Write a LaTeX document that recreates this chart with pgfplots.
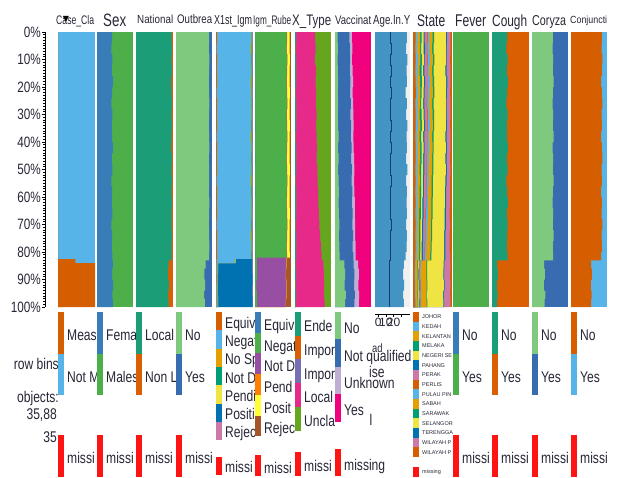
\documentclass[border=0pt]{standalone}
\usepackage{fontspec}
\setmainfont{Liberation Sans}
\newfontfamily\dejavu{DejaVu Sans}
\usepackage{graphicx}
\usepackage{pgfplots}
\pgfplotsset{compat=1.18}
\usepackage{pgfplotstable}

\definecolor{okA}{HTML}{D55E00}
\definecolor{okB}{HTML}{56B4E9}
\definecolor{okC}{HTML}{E69F00}
\definecolor{okD}{HTML}{009E73}
\definecolor{okE}{HTML}{F0E442}
\definecolor{okF}{HTML}{0072B2}
\definecolor{okG}{HTML}{CC79A7}
\definecolor{s1A}{HTML}{377EB8}
\definecolor{s1B}{HTML}{4DAF4A}
\definecolor{s1C}{HTML}{984EA3}
\definecolor{s1D}{HTML}{FF7F00}
\definecolor{s1E}{HTML}{FFFF33}
\definecolor{s1F}{HTML}{A65628}
\definecolor{d2A}{HTML}{1B9E77}
\definecolor{d2B}{HTML}{D95F02}
\definecolor{d2C}{HTML}{7570B3}
\definecolor{d2D}{HTML}{E7298A}
\definecolor{d2E}{HTML}{66A61E}
\definecolor{acA}{HTML}{7FC97F}
\definecolor{acB}{HTML}{BEAED4}
\definecolor{acE}{HTML}{386CB0}
\definecolor{acF}{HTML}{F0027F}
\definecolor{missred}{HTML}{FF1414}
\definecolor{txt}{HTML}{262636}
\definecolor{agebar}{HTML}{4393C3}
\definecolor{ageline}{HTML}{163D6E}
\definecolor{agebg}{HTML}{F0F0F0}

\newcommand\lab[1]{{\fontsize{15.5}{15.5}\selectfont\scalebox{0.78}[1]{#1}}}
\newcommand\slab[1]{{\fontsize{5.5}{5.5}\selectfont #1}}
\newcommand\yl[1]{{\fontsize{15}{15}\selectfont\scalebox{0.78}[1]{#1}}}
\newcommand\ttl[5]{\node[anchor=base west,inner sep=0pt,text=txt] at (#1pt,-#2pt) {\resizebox{#3pt}{#4pt}{#5}};}

% #1 left, #2 slot height, #3 clip right, #4 list colour/label, #5 missing top, #6 font macro, #7 baseline offset, #8 missing label
\newcommand{\legendcol}[8]{%
 \begin{scope}
  \clip (#1pt,-305pt) rectangle (#3pt,-480pt);
  \foreach \c/\t [count=\i from 0] in {#4} {
    \pgfmathsetmacro\yy{312+\i*#2}
    \pgfmathsetmacro\yb{\yy+#2/2+#7}
    \node[anchor=north west,inner sep=0pt,outer sep=0pt] at (#1pt,-\yy pt) {\textcolor{\c}{\rule{6pt}{#2pt}}};
    \node[anchor=base west,inner sep=0pt,text=txt] at (#1pt+9pt,-\yb pt) {#6{\t}};
  }
  \pgfmathsetmacro\yb{#5+#2/2+#7}
  \node[anchor=north west,inner sep=0pt,outer sep=0pt] at (#1pt,-#5pt) {\textcolor{missred}{\rule{6pt}{#2pt}}};
  \node[anchor=base west,inner sep=0pt,text=txt] at (#1pt+9pt,-\yb pt) {#6{#8}};
 \end{scope}}

\pgfplotsset{
  colax/.style={anchor=north west, scale only axis, height=275pt, xmin=0, xmax=1,
    ymin=0, ymax=100, y dir=reverse, hide axis, clip=true},
  fl/.style={draw=none, fill=#1, const plot mark right, mark=none},
}

% ---------------- data: row start (%), cumulative category fractions --------------
\pgfplotstableread{
y a
0 0
82.6 .47
84 1
100 0
}\tCase

\pgfplotstableread{
y a
0 0
0 .42
4 .40
8 .43
12 .41
16 .44
20 .42
24 .40
28 .43
32 .41
36 .42
40 .44
44 .41
48 .43
52 .40
56 .42
60 .41
64 .43
68 .40
72 .42
76 .41
80 .43
83 .44
86 .42
90 .45
94 .43
97 .44
100 0
}\tSex

\pgfplotstableread{
y a
0 0
0 .965
4 .97
8 .96
12 .97
16 .955
20 .965
24 .97
28 .96
32 .97
36 .965
40 .955
44 .97
48 .965
52 .97
56 .96
60 .97
64 .965
68 .96
72 .97
76 .965
80 .96
83 .88
86 .86
90 .89
94 .87
97 .88
100 0
}\tNat

\pgfplotstableread{
y a
0 0
0 .92
4 .91
8 .93
12 .92
16 .91
20 .92
24 .93
28 .92
32 .91
36 .92
40 .93
44 .91
48 .92
52 .92
56 .91
60 .93
64 .92
68 .91
72 .92
76 .93
80 .92
83 .82
86 .79
90 .81
94 .78
97 .80
100 0
}\tOut

\pgfplotstableread{
y a b c d e f
0 0 0 0 0 0 0
0 .03 .94 .95 .965 .975 .985
4 .02 .93 .945 .96 .97 .98
8 .03 .95 .955 .97 .975 .985
12 .025 .94 .95 .965 .97 .98
16 .03 .93 .94 .96 .97 .985
20 .02 .95 .96 .97 .975 .985
24 .03 .94 .95 .96 .97 .98
28 .025 .94 .95 .965 .975 .985
32 .03 .95 .955 .97 .975 .985
36 .02 .93 .945 .96 .97 .98
40 .03 .94 .95 .965 .975 .985
44 .025 .95 .955 .97 .975 .985
48 .03 .94 .95 .96 .97 .98
52 .02 .93 .945 .96 .975 .985
56 .03 .95 .955 .97 .975 .985
60 .025 .94 .95 .965 .97 .98
64 .03 .94 .95 .96 .975 .985
68 .02 .95 .955 .97 .975 .985
72 .03 .93 .945 .96 .97 .98
76 .025 .94 .95 .965 .975 .985
80 .03 .95 .955 .97 .975 .985
82.5 .02 .5 .51 .52 .53 .985
84 .01 .04 .045 .05 .055 .985
88 .015 .035 .04 .045 .05 .99
92 .01 .03 .035 .045 .05 .985
96 .01 .04 .045 .05 .055 .99
100 0 0 0 0 0 0
}\tFirst

\pgfplotstableread{
y a b c d e
0 0 0 0 0 0
0 .005 .88 .885 .89 .965
4 .005 .87 .875 .88 .96
8 .01 .89 .895 .9 .97
12 .005 .88 .885 .89 .965
16 .005 .87 .875 .885 .96
20 .01 .88 .885 .89 .97
24 .005 .89 .895 .9 .965
28 .005 .87 .88 .885 .96
32 .01 .88 .885 .89 .97
36 .005 .89 .895 .9 .965
40 .005 .88 .885 .89 .96
44 .01 .87 .875 .88 .965
48 .005 .88 .885 .89 .97
52 .005 .89 .895 .9 .965
56 .01 .88 .885 .89 .96
60 .005 .87 .875 .88 .965
64 .005 .88 .885 .89 .97
68 .01 .89 .895 .9 .965
72 .005 .88 .885 .89 .96
76 .005 .87 .875 .88 .965
80 .01 .88 .885 .89 .97
82 0 .05 .86 .865 .87
86 0 .06 .85 .855 .86
90 0 .04 .87 .875 .88
94 0 .05 .86 .865 .87
97 0 .06 .85 .855 .86
100 0 0 0 0 0
}\tIgm

\pgfplotstableread{
y a b c d
0 0 0 0 0
0 .025 .03 .035 .56
4 .02 .025 .03 .57
8 .025 .03 .035 .555
12 .03 .035 .04 .58
16 .025 .03 .035 .57
20 .02 .025 .03 .59
24 .025 .03 .035 .58
28 .03 .035 .04 .60
32 .025 .03 .035 .59
36 .02 .025 .03 .60
40 .025 .03 .035 .61
44 .03 .035 .04 .60
48 .025 .03 .035 .62
52 .02 .025 .03 .63
56 .025 .03 .035 .64
60 .03 .035 .04 .65
64 .025 .03 .035 .66
68 .02 .025 .03 .68
72 .025 .03 .035 .70
76 .03 .035 .04 .72
80 .025 .03 .035 .74
83 .02 .025 .03 .79
86 .025 .03 .035 .80
90 .02 .025 .03 .81
94 .025 .03 .035 .80
97 .02 .025 .03 .82
100 0 0 0 0
}\tType

\pgfplotstableread{
y a b c
0 0 0 0
0 .07 .40 .47
4 .08 .41 .48
8 .07 .42 .47
12 .08 .41 .49
16 .09 .43 .50
20 .08 .42 .49
24 .09 .44 .50
28 .08 .43 .51
32 .09 .45 .52
36 .10 .44 .51
40 .09 .46 .52
44 .10 .45 .53
48 .09 .47 .54
52 .10 .46 .53
56 .11 .48 .54
60 .10 .47 .55
64 .11 .49 .55
68 .12 .48 .56
72 .11 .50 .56
76 .12 .49 .57
80 .13 .51 .57
83 .26 .52 .64
86 .28 .54 .66
90 .27 .53 .65
94 .30 .55 .67
97 .28 .54 .66
100 0 0 0
}\tVac

\pgfplotstableread{
y m
0 -4
0 37
4 36
8 37.5
12 36.5
16 37
20 35.5
24 37
28 36
32 37.5
36 36.5
40 37
44 36
48 37.5
52 36
56 37
60 36.5
64 37
68 36
72 37
76 36.5
80 35.5
83 33
86 32
90 33.5
94 32
97 33
100 -4
}\tAge

\pgfplotstableread{
y l
0 16
4 17
8 16.5
12 17.5
16 16
20 17
24 16.5
28 15.5
32 17
36 16
40 17.5
44 16.5
48 16
52 17
56 16.5
60 15.5
64 16.5
68 17
72 16
76 16.5
80 16
83 14.5
86 15
90 14
94 15
97 14.5
100 14.5
}\tAgeLine

\pgfplotstableread{
y a b c d e f g h i j k l m n
0 0 0 0 0 0 0 0 0 0 0 0 0 0 0
0 .07 .12 .18 .22 .27 .30 .37 .38 .42 .50 .54 .84 .87 .96
4 .06 .11 .18 .21 .27 .31 .36 .37 .42 .49 .53 .85 .87 .96
8 .07 .13 .19 .23 .28 .30 .37 .38 .43 .51 .55 .84 .86 .95
12 .06 .12 .17 .22 .26 .29 .36 .37 .41 .49 .53 .83 .86 .96
16 .07 .11 .18 .23 .28 .31 .38 .39 .43 .50 .54 .85 .88 .96
20 .08 .13 .19 .22 .27 .30 .36 .37 .42 .51 .55 .84 .87 .95
24 .06 .12 .18 .21 .26 .29 .35 .36 .41 .49 .53 .84 .86 .96
28 .07 .12 .17 .22 .27 .30 .37 .38 .42 .50 .54 .85 .87 .96
32 .07 .13 .19 .23 .28 .31 .37 .38 .43 .51 .54 .84 .87 .95
36 .06 .11 .17 .21 .26 .29 .36 .37 .41 .49 .53 .83 .86 .96
40 .07 .12 .18 .22 .27 .30 .36 .37 .42 .50 .53 .84 .87 .96
44 .07 .12 .18 .22 .26 .29 .35 .36 .41 .49 .52 .83 .86 .95
48 .06 .11 .17 .21 .26 .29 .35 .36 .40 .49 .52 .84 .87 .96
52 .07 .12 .18 .21 .25 .28 .34 .35 .40 .48 .51 .83 .86 .95
56 .06 .11 .17 .21 .25 .28 .34 .35 .39 .48 .51 .82 .85 .95
60 .07 .12 .17 .20 .24 .27 .33 .34 .39 .47 .50 .82 .85 .95
64 .06 .11 .16 .20 .24 .27 .32 .33 .38 .47 .50 .81 .84 .94
68 .07 .11 .16 .19 .23 .26 .31 .32 .37 .46 .49 .81 .84 .95
72 .06 .10 .15 .19 .23 .26 .31 .32 .36 .46 .49 .80 .83 .94
76 .07 .11 .16 .19 .22 .25 .30 .31 .35 .45 .48 .80 .83 .94
80 .06 .10 .15 .18 .22 .25 .29 .30 .34 .44 .47 .80 .83 .95
83 .05 .07 .11 .13 .15 .16 .18 .185 .205 .345 .365 .785 .805 .955
86 .04 .06 .10 .12 .14 .15 .17 .175 .195 .34 .36 .78 .80 .95
90 .05 .07 .12 .14 .16 .17 .19 .195 .215 .35 .37 .79 .81 .96
94 .05 .07 .11 .13 .15 .16 .18 .185 .205 .33 .35 .77 .79 .95
97 .06 .08 .12 .14 .16 .17 .19 .195 .215 .35 .37 .78 .80 .96
100 0 0 0 0 0 0 0 0 0 0 0 0 0 0
}\tState

\pgfplotstableread{
y a
0 0
0 .41
4 .39
8 .42
12 .40
16 .43
20 .41
24 .39
28 .42
32 .40
36 .41
40 .43
44 .40
48 .42
52 .39
56 .41
60 .43
64 .40
68 .42
72 .41
76 .40
80 .42
83 .14
86 .16
90 .13
94 .15
97 .14
100 0
}\tCough

\pgfplotstableread{
y a
0 0
0 .58
4 .57
8 .59
12 .58
16 .60
20 .58
24 .57
28 .59
32 .58
36 .60
40 .57
44 .59
48 .58
52 .60
56 .58
60 .57
64 .59
68 .58
72 .60
76 .58
80 .59
83 .34
86 .36
90 .33
94 .37
97 .35
100 0
}\tCoryza

\pgfplotstableread{
y a
0 0
0 .86
4 .85
8 .87
12 .86
16 .84
20 .86
24 .87
28 .85
32 .86
36 .84
40 .86
44 .87
48 .85
52 .86
56 .84
60 .86
64 .85
68 .87
72 .85
76 .86
80 .84
83 .56
86 .58
90 .55
94 .57
97 .56
100 0
}\tConj

\begin{document}
\begin{tikzpicture}
\path[use as bounding box] (0,0) rectangle (618pt,-477pt);

% ---- percentage scale ----
\begin{axis}[at={(45pt,-32pt)}, anchor=north west, scale only axis, width=1pt, height=275pt,
  xmin=0, xmax=1, ymin=0, ymax=100, y dir=reverse,
  axis x line=none, axis y line*=left, y axis line style={-, black, line width=0.7pt},
  ytick={0,10,...,100}, minor y tick num=9, tick align=outside,
  major tick length=3pt, minor tick length=1.8pt, tick style={black, line width=0.6pt},
  yticklabels={\yl{0\%},\yl{10\%},\yl{20\%},\yl{30\%},\yl{40\%},\yl{50\%},\yl{60\%},\yl{70\%},\yl{80\%},\yl{90\%},\yl{100\%}},
  yticklabel style={text=txt, inner sep=1pt}]
\addplot[draw=none] coordinates {(0,0)};
\end{axis}

% ---- Case_Cla ----
\begin{axis}[colax, at={(58pt,-32pt)}, width=37pt]
\addplot[draw=none, fill=okB] coordinates {(0,0) (1,0) (1,100) (0,100)};
\addplot[fl=okA] table[x=a,y=y] {\tCase};
\end{axis}
% ---- Sex ----
\begin{axis}[colax, at={(97pt,-32pt)}, width=36pt]
\addplot[draw=none, fill=s1B] coordinates {(0,0) (1,0) (1,100) (0,100)};
\addplot[fl=s1A] table[x=a,y=y] {\tSex};
\end{axis}
% ---- National ----
\begin{axis}[colax, at={(136pt,-32pt)}, width=37pt]
\addplot[draw=none, fill=d2B] coordinates {(0,0) (1,0) (1,100) (0,100)};
\addplot[fl=d2A] table[x=a,y=y] {\tNat};
\end{axis}
% ---- Outbreak ----
\begin{axis}[colax, at={(176pt,-32pt)}, width=36pt]
\addplot[draw=none, fill=acE] coordinates {(0,0) (1,0) (1,100) (0,100)};
\addplot[fl=acA] table[x=a,y=y] {\tOut};
\end{axis}
% ---- X1st_Igm ----
\begin{axis}[colax, at={(216pt,-32pt)}, width=37pt]
\addplot[draw=none, fill=okG] coordinates {(0,0) (1,0) (1,100) (0,100)};
\addplot[fl=okF] table[x=f,y=y] {\tFirst};
\addplot[fl=okE] table[x=e,y=y] {\tFirst};
\addplot[fl=okD] table[x=d,y=y] {\tFirst};
\addplot[fl=okC] table[x=c,y=y] {\tFirst};
\addplot[fl=okB] table[x=b,y=y] {\tFirst};
\addplot[fl=okA] table[x=a,y=y] {\tFirst};
\end{axis}
% ---- Igm_Rube ----
\begin{axis}[colax, at={(255pt,-32pt)}, width=36pt]
\addplot[draw=none, fill=s1F] coordinates {(0,0) (1,0) (1,100) (0,100)};
\addplot[fl=s1E] table[x=e,y=y] {\tIgm};
\addplot[fl=s1D] table[x=d,y=y] {\tIgm};
\addplot[fl=s1C] table[x=c,y=y] {\tIgm};
\addplot[fl=s1B] table[x=b,y=y] {\tIgm};
\addplot[fl=s1A] table[x=a,y=y] {\tIgm};
\end{axis}
% ---- X_Type ----
\begin{axis}[colax, at={(295pt,-32pt)}, width=36pt]
\addplot[draw=none, fill=d2E] coordinates {(0,0) (1,0) (1,100) (0,100)};
\addplot[fl=d2D] table[x=d,y=y] {\tType};
\addplot[fl=d2C] table[x=c,y=y] {\tType};
\addplot[fl=d2B] table[x=b,y=y] {\tType};
\addplot[fl=d2A] table[x=a,y=y] {\tType};
\end{axis}
% ---- Vaccination ----
\begin{axis}[colax, at={(335pt,-32pt)}, width=36pt]
\addplot[draw=none, fill=acF] coordinates {(0,0) (1,0) (1,100) (0,100)};
\addplot[fl=acB] table[x=c,y=y] {\tVac};
\addplot[fl=acE] table[x=b,y=y] {\tVac};
\addplot[fl=acA] table[x=a,y=y] {\tVac};
\end{axis}
% ---- Age ----
\begin{axis}[colax, at={(375pt,-32pt)}, width=35pt, xmin=-4, xmax=41]
\addplot[draw=none, fill=agebg] coordinates {(-4,0) (41,0) (41,100) (-4,100)};
\addplot[fl=agebar] table[x=m,y=y] {\tAge};
\addplot[draw=ageline, line width=1pt, const plot mark right, mark=none] table[x=l,y=y] {\tAgeLine};
\end{axis}
% ---- State ----
\begin{axis}[colax, at={(413pt,-32pt)}, width=39pt]
\addplot[draw=none, fill=okA] coordinates {(0,0) (1,0) (1,100) (0,100)};
\addplot[fl=okG] table[x=n,y=y] {\tState};
\addplot[fl=okF] table[x=m,y=y] {\tState};
\addplot[fl=okE] table[x=l,y=y] {\tState};
\addplot[fl=okD] table[x=k,y=y] {\tState};
\addplot[fl=okC] table[x=j,y=y] {\tState};
\addplot[fl=okB] table[x=i,y=y] {\tState};
\addplot[fl=okA] table[x=h,y=y] {\tState};
\addplot[fl=okG] table[x=g,y=y] {\tState};
\addplot[fl=okF] table[x=f,y=y] {\tState};
\addplot[fl=okE] table[x=e,y=y] {\tState};
\addplot[fl=okD] table[x=d,y=y] {\tState};
\addplot[fl=okC] table[x=c,y=y] {\tState};
\addplot[fl=okB] table[x=b,y=y] {\tState};
\addplot[fl=okA] table[x=a,y=y] {\tState};
\end{axis}
% ---- Fever ----
\begin{axis}[colax, at={(453pt,-32pt)}, width=36pt]
\addplot[draw=none, fill=s1B] coordinates {(0,0) (1,0) (1,100) (0,100)};
\end{axis}
% ---- Cough ----
\begin{axis}[colax, at={(492pt,-32pt)}, width=37pt]
\addplot[draw=none, fill=d2B] coordinates {(0,0) (1,0) (1,100) (0,100)};
\addplot[fl=d2A] table[x=a,y=y] {\tCough};
\end{axis}
% ---- Coryza ----
\begin{axis}[colax, at={(532pt,-32pt)}, width=36pt]
\addplot[draw=none, fill=acE] coordinates {(0,0) (1,0) (1,100) (0,100)};
\addplot[fl=acA] table[x=a,y=y] {\tCoryza};
\end{axis}
% ---- Conjunctivitis ----
\begin{axis}[colax, at={(571pt,-32pt)}, width=36pt]
\addplot[draw=none, fill=okB] coordinates {(0,0) (1,0) (1,100) (0,100)};
\addplot[fl=okA] table[x=a,y=y] {\tConj};
\end{axis}

% ---- Age scale ----
\begin{axis}[at={(375pt,-314pt)}, anchor=south west, scale only axis, width=35pt, height=2pt,
  xmin=-4, xmax=41, ymin=0, ymax=1, axis x line*=bottom, axis y line=none,
  x axis line style={-, black, line width=0.6pt}, tick style={black, line width=0.6pt},
  xtick={0,10,20,30}, xticklabels={0,10,20,{}}, tick align=outside, major tick length=3pt,
  xticklabel style={text=txt, inner sep=1pt, font=\fontsize{12}{12}\selectfont}]
\addplot[draw=none] coordinates {(0,0)};
\end{axis}

% ---- column titles ----
\ttl{56}{24}{38}{9}{Case\_Cla}
\node[inner sep=0pt] at (66pt,-19.5pt) {\dejavu\fontsize{8}{8}\selectfont ▼};
\ttl{103}{26}{23}{12.5}{Sex}
\ttl{137}{23.5}{36}{8.5}{National}
\ttl{177}{23.5}{35}{9}{Outbrea}
\ttl{214}{24}{38}{9}{X1st\_Igm}
\ttl{253}{24}{38}{9}{Igm\_Rube}
\ttl{292}{25}{39}{10.5}{X\_Type}
\ttl{335}{24}{36}{9}{Vaccinat}
\ttl{373}{24}{37}{9}{Age.In.Y}
\ttl{417}{26.7}{28}{11.7}{State}
\ttl{455}{26.7}{31}{11.7}{Fever}
\ttl{492}{26.7}{35}{11.7}{Cough}
\ttl{532}{25.5}{34}{10}{Coryza}
\ttl{570}{23}{37}{7.5}{Conjuncti}

% ---- left info text ----
\node[anchor=base east,inner sep=0pt,text=txt] at (59pt,-369pt) {\lab{row bins}};
\node[anchor=base east,inner sep=0pt,text=txt] at (59pt,-402pt) {\lab{objects:}};
\node[anchor=base east,inner sep=0pt,text=txt] at (57pt,-419pt) {\lab{35,88}};
\node[anchor=base east,inner sep=0pt,text=txt] at (57pt,-442pt) {\lab{35}};

% ---- legends ----
\legendcol{58}{41.5}{97}{okA/Meas, okB/Not M}{435}{\lab}{8}{missi}
\legendcol{97}{41.5}{136}{s1A/Fema, s1B/Males}{435}{\lab}{8}{missi}
\legendcol{136}{41.5}{176}{d2A/Local, d2B/Non L}{435}{\lab}{8}{missi}
\legendcol{176}{41.5}{216}{acA/No, acE/Yes}{435}{\lab}{8}{missi}
\legendcol{216}{18.3}{255}{okA/Equiv, okB/Negat, okC/No Sp, okD/Not D, okE/Pendi, okF/Positi, okG/Rejec}{456.5}{\lab}{7}{missi}
\legendcol{255}{20.7}{295}{s1A/Equiv, s1B/Negat, s1C/Not D, s1D/Pend, s1E/Posit, s1F/Rejec}{455}{\lab}{8}{missi}
\legendcol{295}{23.7}{335}{d2A/Ende, d2B/Impor, d2C/Impor, d2D/Local, d2E/Uncla}{452}{\lab}{8}{missi}
\legendcol{335}{27.4}{413}{acA/No, acE/Not qualified, acB/Unknown, acF/Yes}{449}{\lab}{8}{missing}
\legendcol{413}{9.67}{453}{okA/JOHOR, okB/KEDAH, okC/KELANTAN, okD/MELAKA, okE/NEGERI SE, okF/PAHANG, okG/PERAK, okA/PERLIS, okB/PULAU PIN, okC/SABAH, okD/SARAWAK, okE/SELANGOR, okF/TERENGGA, okG/WILAYAH P, okA/WILAYAH P}{467}{\slab}{2}{missing}
\legendcol{453}{41.5}{492}{s1A/No, s1B/Yes}{435}{\lab}{8}{missi}
\legendcol{492}{41.5}{532}{d2A/No, d2B/Yes}{435}{\lab}{8}{missi}
\legendcol{532}{41.5}{571}{acA/No, acE/Yes}{435}{\lab}{8}{missi}
\legendcol{571}{41.5}{608}{okA/No, okB/Yes}{435}{\lab}{8}{missi}

% ---- stray overlapping text fragments ----
\node[anchor=base west,inner sep=0pt,text=txt] at (372pt,-352pt) {{\fontsize{12}{12}\selectfont\scalebox{0.78}[1]{ad}}};
\node[anchor=base west,inner sep=0pt,text=txt] at (369pt,-377pt) {\lab{ise}};
\node[anchor=base west,inner sep=0pt,text=txt] at (369.5pt,-425pt) {\lab{l}};
\end{tikzpicture}
\end{document}
